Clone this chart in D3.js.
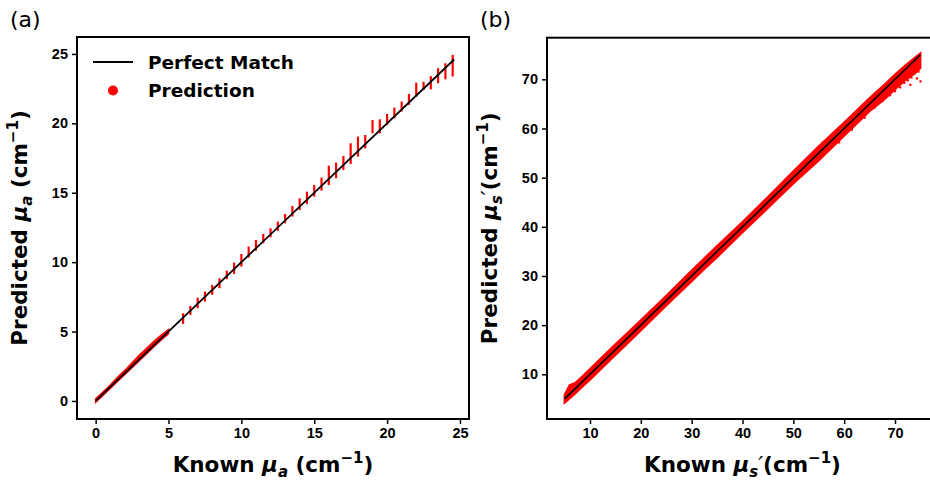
<!DOCTYPE html>
<html>
<head>
<meta charset="utf-8">
<script src="https://cdn.jsdelivr.net/npm/d3@7"></script>
<style>
  body { margin: 0; background: #fff; }
  svg { display: block; font-family: "DejaVu Sans", sans-serif; }
  .tick text { font-weight: bold; font-size: 14.5px; fill: #000; }
</style>
</head>
<body>
<div id="chart"></div>
<script>
// panel (a): dense part of the absorption predictions, known 0..5
const knownA = [0, 0.5, 1, 1.5, 2, 2.5, 3, 3.5, 4, 4.5, 5];
const loA = [-0.1, 0.4, 0.9, 1.4, 1.9, 2.4, 2.9, 3.4, 3.9, 4.4, 4.85];
const hiA = [0.15, 0.65, 1.15, 1.7, 2.2, 2.75, 3.3, 3.8, 4.3, 4.75, 5.15];

// panel (a): discrete known values 6..24.5, spread of predictions
const barX = [6, 6.5, 7, 7.5, 8, 8.5, 9, 9.5, 10, 10.5, 11, 11.5, 12, 12.5, 13, 13.5, 14, 14.5, 15, 15.5,
  16, 16.5, 17, 17.5, 18, 18.5, 19, 19.5, 20, 20.5, 21, 21.5, 22, 22.5, 23, 23.5, 24, 24.5];
const barLo = [5.55, 6.2, 6.68, 7.16, 7.64, 8.12, 8.77, 9.15, 9.68, 10.33, 10.83, 11.36, 11.79, 12.25, 12.8, 13.28, 13.76, 14.19, 14.72, 15.15,
  15.56, 16.04, 16.64, 17.07, 17.6, 18.2, 19.28, 19.28, 19.88, 20.36, 20.85, 21.33, 21.93, 22.4, 22.45, 22.89, 23.17, 23.37];
const barHi = [6.32, 6.84, 7.44, 7.88, 8.36, 8.84, 9.39, 9.97, 10.59, 11.12, 11.6, 12.03, 12.44, 12.92, 13.47, 14.05, 14.6, 15.08, 15.56, 16.09,
  16.95, 17.17, 17.65, 18.56, 19.04, 19.16, 20.24, 20.29, 20.68, 21.13, 21.57, 22.12, 22.93, 23.0, 23.4, 23.97, 24.33, 24.93];
const perfectA = [0, 24.6];

// panel (b): reduced scattering band
const knownS = [5, 5.5, 6, 7, 8, 10, 12, 15, 20, 25, 30, 33, 35, 40, 45, 50, 55, 60, 65, 68, 70, 72, 74, 75];
const loS = [4.2, 4.6, 5.1, 6.0, 7.0, 8.9, 10.9, 13.9, 18.9, 24.0, 28.9, 31.9, 33.8, 38.9, 43.8, 48.8, 53.5, 58.5, 63.5, 66.0, 68.0, 69.8, 71.3, 72.3];
const hiS = [5.8, 6.8, 7.8, 8.2, 9.1, 11.1, 13.1, 16.1, 21.0, 26.0, 31.1, 34.1, 36.1, 41.0, 46.1, 51.3, 56.4, 61.2, 66.2, 69.0, 71.0, 72.8, 74.5, 75.3];
const outS = [[59, 57.2], [61.5, 59.8], [64, 62.2], [66, 64.3], [67.5, 65.6], [69, 66.8], [70, 67.6], [71, 68.4],
  [71.8, 69.3], [72.5, 69.8], [73.2, 70.4], [73.8, 71.2], [74.3, 70.2], [74.6, 71.6], [75, 69.6], [74.8, 72.4], [73, 68.9]];
const perfectS = [5, 75];

const W = 930, H = 480;
const svg = d3.select("#chart").append("svg").attr("width", W).attr("height", H);

function panel(o) {
  const x = d3.scaleLinear().domain(o.xd).range([o.left, o.right]);
  const y = d3.scaleLinear().domain(o.yd).range([o.bottom, o.top]);
  const g = svg.append("g");

  const xa = g.append("g").attr("transform", `translate(0,${o.bottom})`)
    .call(d3.axisBottom(x).tickValues(o.xt).tickFormat(d3.format("d")).tickSize(5).tickPadding(4));
  const ya = g.append("g").attr("transform", `translate(${o.left},0)`)
    .call(d3.axisLeft(y).tickValues(o.yt).tickFormat(d3.format("d")).tickSize(5).tickPadding(4));
  [xa, ya].forEach(a => {
    a.select(".domain").remove();
    a.selectAll(".tick line").attr("stroke", "#000").attr("stroke-width", 1.5);
  });

  const plot = g.append("g");
  o.draw(plot, x, y);

  plot.append("line")
    .attr("x1", x(o.perfect[0])).attr("y1", y(o.perfect[0]))
    .attr("x2", x(o.perfect[1])).attr("y2", y(o.perfect[1]))
    .attr("stroke", "#000").attr("stroke-width", o.lw);

  g.append("rect")
    .attr("x", o.left).attr("y", o.top)
    .attr("width", o.right - o.left).attr("height", o.bottom - o.top)
    .attr("fill", "none").attr("stroke", "#000").attr("stroke-width", 2);

  // panel letter
  g.append("text").attr("x", o.left - 67).attr("y", 27)
    .attr("font-size", 22).text(o.letter);

  const xl = g.append("text").attr("x", (o.left + o.right) / 2).attr("y", 472)
    .attr("text-anchor", "middle").attr("font-weight", "bold").attr("font-size", 21.5);
  label(xl, "Known ", o.sub, o.prime);

  const yl = g.append("text")
    .attr("transform", `translate(${o.left - 50},${(o.top + o.bottom) / 2}) rotate(-90)`)
    .attr("text-anchor", "middle").attr("font-weight", "bold").attr("font-size", 21.5);
  label(yl, "Predicted ", o.sub, o.prime);
}

function label(t, word, sub, prime) {
  t.append("tspan").text(word);
  t.append("tspan").attr("font-style", "italic").text("μ");
  t.append("tspan").attr("font-style", "italic").attr("font-size", 15).attr("dy", 5).text(sub);
  if (prime) {
    t.append("tspan").attr("font-weight", "normal").attr("font-style", "italic").attr("dy", -5).text("′");
    t.append("tspan").text("(cm");
  } else {
    t.append("tspan").attr("dy", -5).text(" (cm");
  }
  t.append("tspan").attr("font-size", 15).attr("dy", -9).text("−1");
  t.append("tspan").attr("dy", 9).text(")");
}

panel({
  left: 77, right: 469, top: 37, bottom: 419,
  xd: [-1.28, 25.62], yd: [-1.30, 26.22],
  xt: [0, 5, 10, 15, 20, 25], yt: [0, 5, 10, 15, 20, 25],
  letter: "(a)", sub: "a", prime: false, perfect: perfectA, lw: 1.8,
  draw(p, x, y) {
    const band = knownA.map((k, i) => ({ k, lo: loA[i], hi: hiA[i] }));
    p.append("path").datum(band)
      .attr("fill", "red").attr("stroke", "red").attr("stroke-width", 1.5)
      .attr("d", d3.area().x(d => x(d.k)).y0(d => y(d.lo)).y1(d => y(d.hi)));
    p.selectAll("line.bar").data(barX).join("line").attr("class", "bar")
      .attr("x1", d => x(d)).attr("x2", d => x(d))
      .attr("y1", (d, i) => y(barLo[i])).attr("y2", (d, i) => y(barHi[i]))
      .attr("stroke", "red").attr("stroke-width", 2.2);
  }
});

panel({
  left: 547, right: 938, top: 37.7, bottom: 419,
  xd: [1.54, 78.46], yd: [0.91, 78.47],
  xt: [10, 20, 30, 40, 50, 60, 70], yt: [10, 20, 30, 40, 50, 60, 70],
  letter: "(b)", sub: "s", prime: true, perfect: perfectS, lw: 1.6,
  draw(p, x, y) {
    const band = knownS.map((k, i) => ({ k, lo: loS[i], hi: hiS[i] }));
    p.append("path").datum(band)
      .attr("fill", "red").attr("stroke", "red").attr("stroke-width", 2)
      .attr("d", d3.area().x(d => x(d.k)).y0(d => y(d.lo)).y1(d => y(d.hi)));
    p.selectAll("rect.out").data(outS).join("rect").attr("class", "out")
      .attr("x", d => x(d[0]) - 1).attr("y", d => y(d[1]) - 1)
      .attr("width", 2.2).attr("height", 2.2).attr("fill", "red");
  }
});

// legend (panel a)
const lg = svg.append("g").attr("font-weight", "bold").attr("font-size", 18.5);
lg.append("line").attr("x1", 93).attr("x2", 133).attr("y1", 62).attr("y2", 62)
  .attr("stroke", "#000").attr("stroke-width", 2);
lg.append("text").attr("x", 148).attr("y", 68.5).text("Perfect Match");
lg.append("circle").attr("cx", 113).attr("cy", 90.5).attr("r", 5).attr("fill", "red");
lg.append("text").attr("x", 148).attr("y", 97).text("Prediction");
</script>
</body>
</html>
